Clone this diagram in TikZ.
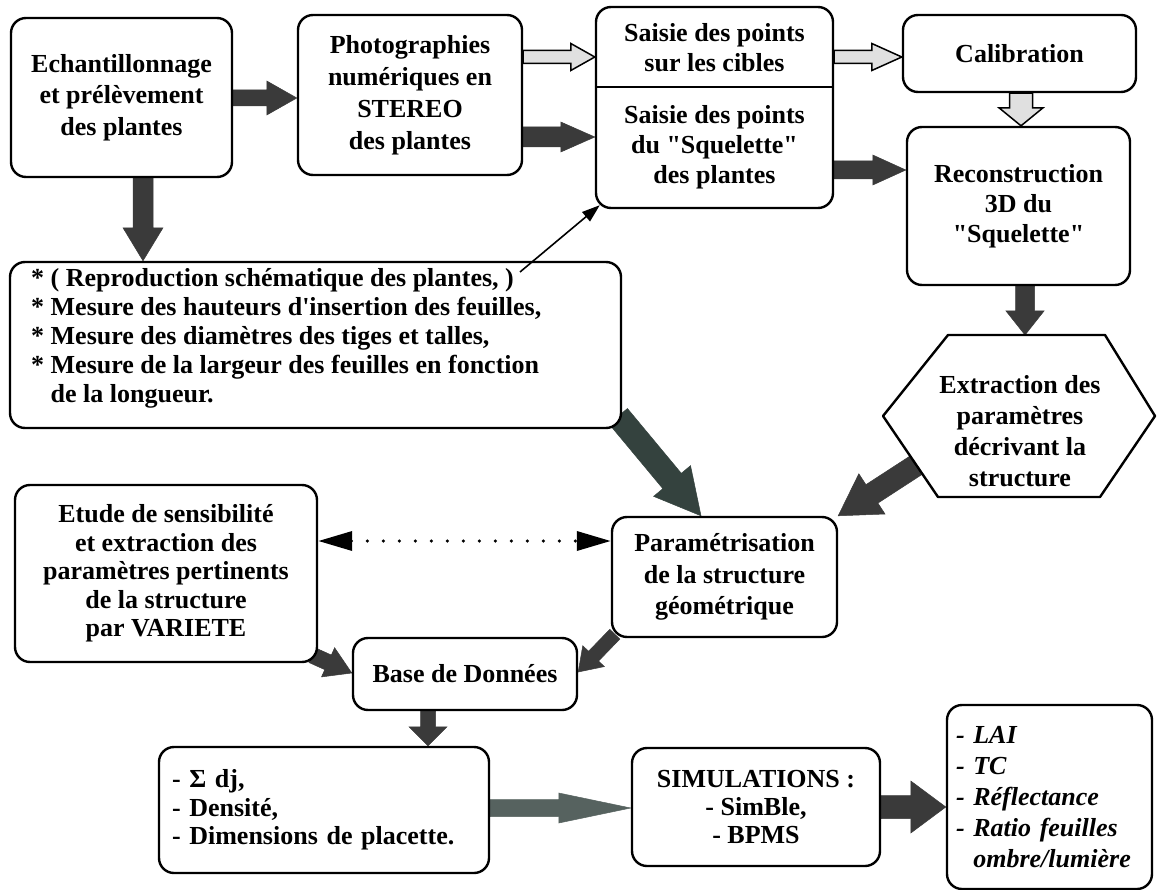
\documentclass[tikz,border=0pt]{standalone}
\usepackage{fontspec}
\setmainfont{Liberation Serif}
\usetikzlibrary{calc,arrows.meta}
\pgfdeclarelayer{bg}
\pgfsetlayers{bg,main}
\newcommand\fs[1]{\fontsize{26}{#1}\selectfont\bfseries}
\newcommand\qq{\textquotedbl}
% block arrow: [style]{from}{to}{shaft half width}{head half width}{head length}
\newcommand\blockarr[6][]{%
  \path[#1] let \p1=(#2), \p2=(#3), \n1={atan2(\y2-\y1,\x2-\x1)},
    \n2={veclen(\x2-\x1,\y2-\y1)-#6} in
    ($(\p1)+(\n1+90:#4)$) -- ($(\p1)+(\n1:\n2)+(\n1+90:#4)$)
    -- ($(\p1)+(\n1:\n2)+(\n1+90:#5)$) -- (\p2)
    -- ($(\p1)+(\n1:\n2)+(\n1-90:#5)$) -- ($(\p1)+(\n1:\n2)+(\n1-90:#4)$)
    -- ($(\p1)+(\n1-90:#4)$) -- cycle;}
\definecolor{darkarr}{HTML}{3A3A3A}
\definecolor{greenarr}{HTML}{34423E}
\definecolor{simarr}{HTML}{56625F}
\tikzset{
  box/.style={draw, line width=2.4pt, rounded corners=15pt, align=center,
    inner sep=0pt, fill=white},
  dark/.style={fill=darkarr, draw=darkarr, line width=0.5pt},
  greenish/.style={fill=greenarr, draw=greenarr, line width=0.5pt},
  simcol/.style={fill=simarr, draw=simarr, line width=0.5pt},
  light/.style={fill=black!12, draw=black, line width=1.5pt, line join=miter},
  thinarr/.style={line width=1.6pt, -{Triangle[length=18pt,width=12pt]}},
  dotarr/.style={line width=3.5pt, line cap=round, dash pattern=on 0pt off 16pt,
    {Triangle[length=34pt,width=19pt]}-{Triangle[length=34pt,width=19pt]}},
}
\begin{document}
\begin{tikzpicture}[x=1pt,y=-1pt]
\useasboundingbox (0,0) rectangle (1158,890);
% boxes
\node[box, minimum width=221pt, minimum height=159pt, font=\fs{31.5}] (A) at (121.5,97.5)
  {Echantillonnage\\et prélèvement\\des plantes};
\node[box, minimum width=224pt, minimum height=160pt, font=\fs{32}] (B) at (410,95)
  {Photographies\\numériques en\\STEREO\\des plantes};
\node[box, minimum width=237pt, minimum height=201pt] (C) at (714.5,107.5) {};
\draw[line width=2.4pt] (C.west |- 0,87) -- (C.east |- 0,87);
\node[align=center, font=\fs{30}] (Ctop) at (714.5,48) {Saisie des points\\sur les cibles};
\node[align=center, font=\fs{30}] (Cbot) at (714.5,147) {Saisie des points\\du \qq Squelette\qq\\des plantes};
\node[box, minimum width=233pt, minimum height=77pt, font=\fs{30}] (Cal) at (1019.5,53.5) {Calibration};
\node[box, minimum width=223pt, minimum height=158pt, font=\fs{30}] (Rec) at (1018.5,206)
  {Reconstruction\\3D du\\\qq Squelette\qq};
\node[box, minimum width=611pt, minimum height=166pt] (Dbox) at (315.5,345) {};
\node[anchor=north west, align=left, inner sep=0pt, font=\fs{29}] (Dtext) at (31,268)
  {* ( Reproduction schématique des plantes, )\\
   * Mesure des hauteurs d\textquotesingle insertion des feuilles,\\
   * Mesure des diamètres des tiges et talles,\\
   * Mesure de la largeur des feuilles en fonction\\
   \phantom{* }de la longueur.};
\draw[line width=2.4pt, fill=white, line join=round] (948,335) -- (1105,335) -- (1155,416)
  -- (1100,497) -- (938,497) -- (883,416) -- cycle;
\node[align=center, font=\fs{31}] (hex) at (1020,431)
  {Extraction des\\paramètres\\décrivant la\\structure};
\coordinate (hextop) at (1025,335);
\coordinate (hexsw) at (921,462);
\node[box, minimum width=225pt, minimum height=120pt, font=\fs{31.5}] (Param) at (724.5,577)
  {Paramétrisation\\de la structure\\géométrique};
\node[box, minimum width=302pt, minimum height=177pt, font=\fs{28.5}] (Etude) at (166,573.5)
  {Etude de sensibilité\\et extraction des\\paramètres pertinents\\de la structure\\par VARIETE};
\node[box, minimum width=224pt, minimum height=72pt, font=\fs{30}] (Base) at (465,674) {Base de Données};
\node[box, minimum width=330pt, minimum height=126pt, text width=304pt, inner xsep=13pt,
  align=left, font=\fs{28.5}] (Sig) at (324,810)
  {- Σ dj,\\- Densité,\\- Dimensions de placette.};
\node[box, minimum width=248pt, minimum height=118pt, font=\fs{28}] (Sim) at (756,807)
  {SIMULATIONS :\\- SimBle,\\- BPMS};
\node[box, minimum width=205pt, minimum height=184pt, text width=187pt, inner xsep=9pt,
  align=left, font={\fs{31}\itshape}] (Res) at (1049.5,797)
  {- LAI\\- TC\\- Réflectance\\- Ratio feuilles\\\phantom{- }ombre/lumière};
\coordinate (rp) at (520,272);
% connectors
\begin{pgfonlayer}{bg}
\blockarr[dark]{A.east |- 0,98}{B.west |- 0,98}{8pt}{17pt}{30pt}
\blockarr[dark]{A.south -| 143,0}{Dbox.north -| 143,0}{10pt}{20pt}{33pt}
\blockarr[light]{B.east |- 0,57}{C.west |- 0,57}{6.5pt}{13.5pt}{24pt}
\blockarr[dark]{B.east |- 0,137}{C.west |- 0,137}{10pt}{15pt}{34pt}
\blockarr[light]{C.east |- 0,57}{Cal.west |- 0,57}{6.5pt}{13.5pt}{30pt}
\blockarr[light]{Cal.south -| 1021,0}{Rec.north -| 1021,0}{11.5pt}{22pt}{18pt}
\blockarr[dark]{C.east |- 0,170}{Rec.west |- 0,170}{9pt}{15pt}{33pt}
\blockarr[dark]{Rec.south -| 1025,0}{hextop}{9.5pt}{19pt}{24pt}
\blockarr[greenish]{$(Dbox.south east)+(-4,-13)$}{Param.north -| 701,0}{12pt}{24pt}{45pt}
\blockarr[dark]{hexsw}{Param.north east}{11pt}{24pt}{40pt}
\blockarr[dark]{$(Etude.south east)+(-6,-8)$}{Base.west |- 0,673}{8pt}{16pt}{26pt}
\blockarr[dark]{$(Param.south west)+(4,-4)$}{Base.east |- 0,672}{7pt}{15pt}{22pt}
\blockarr[dark]{Base.south -| 428,0}{Sig.north -| 428,0}{7.5pt}{19pt}{19pt}
\blockarr[simcol]{Sig.east |- 0,808}{Sim.west |- 0,808}{8.5pt}{15pt}{72pt}
\blockarr[dark]{Sim.east |- 0,807}{Res.west |- 0,807}{11.5pt}{26pt}{35pt}
\end{pgfonlayer}
\draw[thinarr] (rp) -- ($(C.south west)+(5,-4)$);
\draw[dotarr] (Etude.east |- 0,541) -- (Param.west |- 0,541);
\end{tikzpicture}
\end{document}
